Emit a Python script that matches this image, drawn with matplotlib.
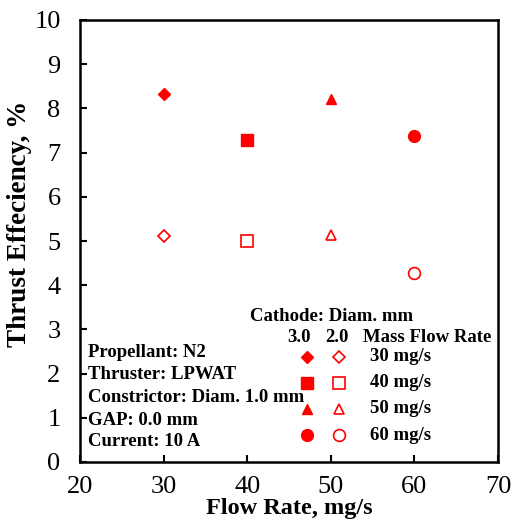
import matplotlib
matplotlib.use('Agg')
import matplotlib.pyplot as plt

flow = [30, 40, 50, 60]
eff_30mm = [8.33, 7.29, 8.21, 7.37]
eff_20mm = [5.11, 5.00, 5.13, 4.28]
markers = ['D', 's', '^', 'o']
msizes = [7, 10, 9, 10]
rate_labels = ['30 mg/s', '40 mg/s', '50 mg/s', '60 mg/s']
info_lines = ['Propellant: N2', 'Thruster: LPWAT', 'Constrictor: Diam. 1.0 mm',
              'GAP: 0.0 mm', 'Current: 10 A']

plt.rcParams['font.family'] = ['Liberation Serif', 'DejaVu Serif']

fig = plt.figure(figsize=(5.19, 5.24), dpi=100)
ax = fig.add_axes([80/519, 1-462/524, 418/519, 442/524])

for x, y1, y2, m, ms in zip(flow, eff_30mm, eff_20mm, markers, msizes):
    ax.plot(x, y1, m, color='red', ms=ms*0.85, mec='red')
    ax.plot(x, y2, m, color='red', ms=ms*0.85, mfc='none', mec='red', mew=1.2)

ax.set_xlim(20, 70)
ax.set_ylim(0, 10)
ax.set_xticks(range(20, 71, 10))
ax.set_yticks(range(0, 11))
ax.tick_params(direction='in', labelsize=19, width=1.5, length=5)
ax.tick_params(axis='x', pad=10)
ax.tick_params(axis='y', pad=14)
for s in ax.spines.values():
    s.set_linewidth(1.8)
ax.set_xlabel('Flow Rate, mg/s', fontsize=17.5, fontweight='bold', labelpad=0)
ax.set_ylabel('Thrust Effeciency, %', fontsize=19.5, fontweight='bold', va='center')
ax.yaxis.set_label_coords(-0.145, 0.538)

# info text block
info_y = [2.47, 1.97, 1.45, 0.95, 0.475]
for yy, t in zip(info_y, info_lines):
    ax.text(20.96, yy, t, fontsize=13.5, fontweight='bold', va='center')

# custom legend
ax.text(40.33, 3.30, 'Cathode: Diam. mm', fontsize=13.5, fontweight='bold', va='center')
ax.text(46.2, 2.81, '3.0', fontsize=13.5, fontweight='bold', va='center', ha='center')
ax.text(50.74, 2.81, '2.0', fontsize=13.5, fontweight='bold', va='center', ha='center')
ax.text(53.85, 2.81, 'Mass Flow Rate', fontsize=13.5, fontweight='bold', va='center')
leg_y = [2.38, 1.79, 1.20, 0.61]
for yy, m, ms, lab in zip(leg_y, markers, msizes, rate_labels):
    ax.plot(47.15, yy, m, color='red', ms=ms*0.85, mec='red')
    ax.plot(50.98, yy, m, color='red', ms=ms*0.85, mfc='none', mec='red', mew=1.2)
    ax.text(54.69, yy, lab, fontsize=13.5, fontweight='bold', va='center')

fig.savefig('out.png', dpi=100)
